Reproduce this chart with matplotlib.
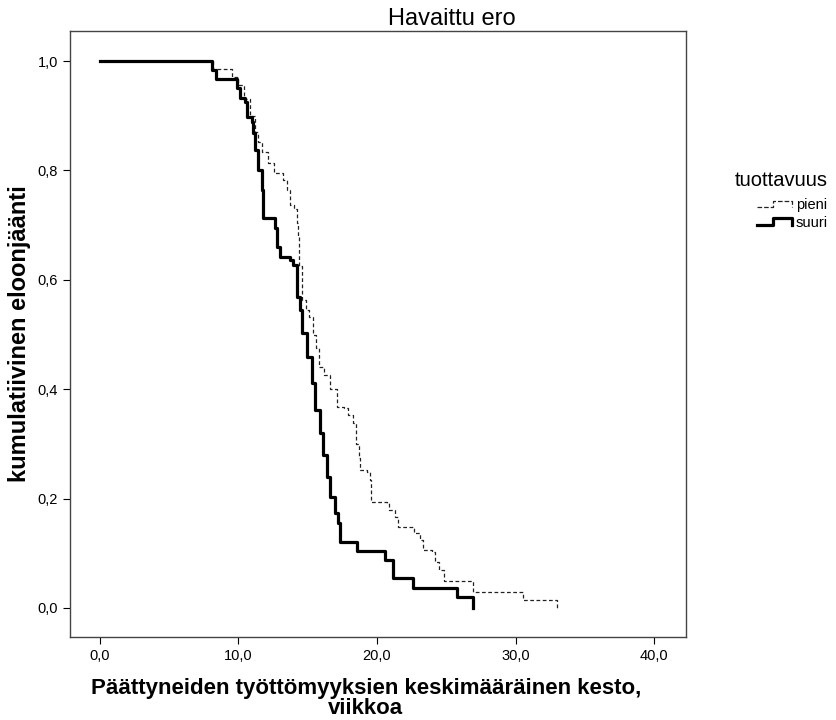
import matplotlib
matplotlib.use("Agg")
import matplotlib.pyplot as plt
from matplotlib.legend_handler import HandlerBase
from matplotlib.lines import Line2D
from matplotlib.ticker import FuncFormatter

plt.rcParams['font.family'] = ['Liberation Sans', 'DejaVu Sans']

# Kaplan-Meier step points (time in weeks, survival after the step)
suuri_t = [0.0, 8.08, 8.37, 9.88, 10.10, 10.46, 10.61, 10.97, 11.04, 11.18,
           11.40, 11.69, 11.76, 12.63, 12.77, 12.99, 13.71, 13.92, 14.21,
           14.43, 14.57, 14.94, 15.30, 15.51, 15.87, 16.09, 16.38, 16.59,
           16.96, 17.17, 17.32, 18.54, 20.56, 21.14, 22.58, 25.76, 26.91]
suuri_s = [1.0, 0.984, 0.967, 0.950, 0.932, 0.925, 0.898, 0.888, 0.868, 0.837,
           0.801, 0.764, 0.713, 0.695, 0.660, 0.642, 0.636, 0.627, 0.569,
           0.545, 0.503, 0.459, 0.411, 0.362, 0.320, 0.280, 0.240, 0.203,
           0.174, 0.155, 0.121, 0.104, 0.088, 0.055, 0.037, 0.020, 0.0]

pieni_t = [0.0, 8.15, 9.50, 10.0, 10.4, 10.8, 11.2, 11.4, 11.7, 12.1, 12.6,
           13.2, 13.5, 13.7, 14.0, 14.2, 14.3, 14.4, 14.6, 14.9, 15.1, 15.4,
           15.6, 15.8, 16.2, 16.6, 17.1, 17.6, 17.9, 18.3, 18.5, 18.7, 18.8,
           19.3, 19.5, 19.6, 20.7, 20.9, 21.3, 21.5, 22.7, 23.1, 23.3, 24.0,
           24.2, 24.5, 24.8, 26.9, 30.5, 32.97]
pieni_s = [1.0, 0.986, 0.971, 0.957, 0.930, 0.900, 0.870, 0.852, 0.834, 0.814,
           0.795, 0.782, 0.764, 0.737, 0.729, 0.704, 0.678, 0.625, 0.563,
           0.545, 0.532, 0.500, 0.475, 0.440, 0.426, 0.400, 0.367, 0.366,
           0.353, 0.338, 0.300, 0.275, 0.252, 0.249, 0.234, 0.194, 0.192,
           0.180, 0.166, 0.148, 0.137, 0.124, 0.106, 0.102, 0.084, 0.069,
           0.050, 0.029, 0.015, 0.0]

x_ticks = [0, 10, 20, 30, 40]
y_ticks = [0.0, 0.2, 0.4, 0.6, 0.8, 1.0]


class StepHandler(HandlerBase):
    # legend symbol drawn as a small step, like the SPSS legend
    def create_artists(self, legend, orig, xd, yd, w, h, fontsize, trans):
        xs = [xd, xd + 0.45 * w, xd + 0.45 * w, xd + w, xd + w]
        ys = [yd + 0.15 * h, yd + 0.15 * h, yd + 0.8 * h, yd + 0.8 * h, yd + 0.15 * h]
        ln = Line2D(xs, ys, color=orig.get_color(), lw=orig.get_linewidth(),
                    linestyle=orig.get_linestyle(), transform=trans)
        return [ln]


fig = plt.figure(figsize=(8.36, 7.2), dpi=100)
ax = fig.add_axes([0.0837, 0.1153, 0.7369, 0.8417])

l1, = ax.plot(pieni_t, pieni_s, drawstyle='steps-post', color='#222222',
              lw=0.9, dashes=(3, 2), label='pieni')
l2, = ax.plot(suuri_t, suuri_s, drawstyle='steps-post', color='black',
              lw=2.3, label='suuri')

ax.set_xlim(-2.16, 42.3)
ax.set_ylim(-0.053, 1.055)
ax.set_xticks(x_ticks)
ax.set_yticks(y_ticks)
fmt = FuncFormatter(lambda v, p: ('%.1f' % v).replace('.', ','))
ax.xaxis.set_major_formatter(fmt)
ax.yaxis.set_major_formatter(fmt)
ax.tick_params(direction='out', length=5, width=0.8, labelsize=10.5,
               colors='black')
for sp in ax.spines.values():
    sp.set_color('#444444')
    sp.set_linewidth(1.0)

ax.set_xlabel('Päättyneiden työttömyyksien keskimääräinen kesto,\nviikkoa',
              fontsize=16, fontweight='bold', linespacing=0.95)
ax.xaxis.set_label_coords(0.48, -0.068)
ax.set_ylabel('kumulatiivinen eloonjäänti', fontsize=17, fontweight='bold',
              va='center')
ax.yaxis.set_label_coords(-0.082, 0.5)

fig.text(0.54, 0.974, 'Havaittu ero', ha='center', va='center', fontsize=17)

fig.text(735 / 836, 1 - 180 / 720, 'tuottavuus', ha='left', va='center',
         fontsize=14.5)
leg = fig.legend(handles=[l1, l2], labels=['pieni', 'suuri'],
                 loc='upper left', bbox_to_anchor=(757 / 836, 1 - 198 / 720),
                 frameon=False, fontsize=10.5, handlelength=2.4,
                 handletextpad=0.25, labelspacing=0.25, borderaxespad=0,
                 borderpad=0, handler_map={Line2D: StepHandler()})

fig.savefig('out.png', dpi=100)
